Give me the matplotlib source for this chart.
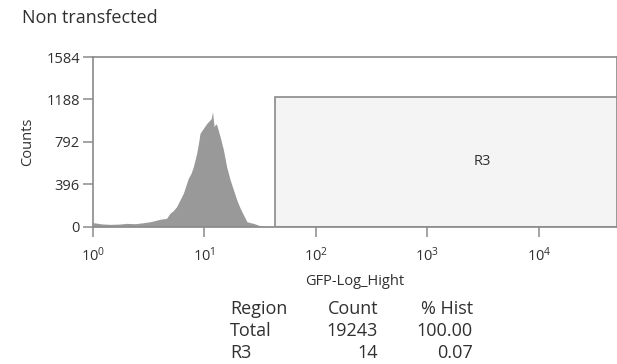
import numpy as np
import matplotlib.pyplot as plt

plt.rcParams['font.family'] = ['Open Sans', 'DejaVu Sans']
plt.rcParams['mathtext.fontset'] = 'custom'
plt.rcParams['mathtext.rm'] = 'Open Sans'

# GFP height channel (linear units) and event counts per channel
channel = [1.00, 1.20, 1.41, 1.70, 2.00, 2.40, 2.82, 3.20, 3.47, 3.98, 4.57, 4.90,
           5.25, 5.62, 6.03, 6.46, 7.16, 7.59, 7.94, 8.51, 8.90, 9.12, 9.77, 10.5,
           11.2, 11.5, 11.8, 12.2, 12.6, 12.9, 13.8, 14.8, 15.8, 17.0, 18.2, 19.5,
           20.9, 22.4, 24.0, 25.7, 27.5, 31.6, 36.3, 41.7]
counts = [38, 26, 22, 24, 31, 28, 37, 45, 53, 69, 78, 125,
          150, 187, 250, 312, 452, 500, 560, 685, 800, 872, 918, 965,
          996, 1010, 1073, 933, 960, 949, 840, 716, 560, 436, 343, 249,
          172, 109, 47, 38, 31, 9, 4, 3]

# R3 gate
gate_lo, gate_hi, gate_h = 43.0, 2.2e5, 1213

regions = ['Region', 'Total', 'R3']
region_counts = ['Count', '19243', '14']
pct_hist = ['% Hist', '100.00', '0.07']

W, H = 617, 364
fig = plt.figure(figsize=(W / 100, H / 100), dpi=100)
ax = fig.add_axes([93 / W, 1 - 226.7 / H, (W - 93) / W, (226.7 - 57) / H])

spine_col = '#8a8a8a'
text_col = '#303030'

ax.fill_between(channel, counts, 0, color='#999999', linewidth=0, zorder=2)
ax.add_patch(plt.Rectangle((gate_lo, 0), gate_hi - gate_lo, gate_h,
                           facecolor='#f4f4f4', edgecolor=spine_col,
                           linewidth=1.2, zorder=1))
ax.text(np.sqrt(gate_lo * gate_hi), gate_h / 2, 'R3', ha='center', va='center',
        fontsize=10.5, color=text_col)

ax.set_xscale('log')
ax.set_xlim(1, 10 ** 4.70)
ax.set_ylim(0, 1584)
ax.set_xticks([1, 10, 100, 1000, 10000])
ax.set_xticklabels(['$\\mathregular{10^{%d}}$' % i for i in range(5)])
ax.xaxis.set_minor_locator(plt.NullLocator())
ax.set_yticks([0, 396, 792, 1188, 1584])

for s in ax.spines.values():
    s.set_color(spine_col)
    s.set_linewidth(1.2)
ax.tick_params(colors=spine_col, labelcolor=text_col, labelsize=10.5,
               length=7.5, width=1.1)
ax.tick_params(axis='y', pad=2)
ax.tick_params(axis='x', pad=7)

ax.set_ylabel('Counts', fontsize=10.5, color=text_col)
ax.yaxis.set_label_coords(-0.124, 0.5)
ax.yaxis.label.set_va('center')
ax.set_xlabel('GFP-Log_Hight', fontsize=10.5, color=text_col)
ax.xaxis.set_label_coords(0.5, -0.32)
ax.xaxis.label.set_va('center')

fig.text(22 / W, 1 - 18 / H, 'Non transfected', fontsize=13, color=text_col,
         ha='left', va='center')

# statistics table under the plot
row_y = [309, 331, 353]
for i, y in enumerate(row_y):
    fy = 1 - y / H
    fig.text(230 / W, fy, regions[i], fontsize=13, color=text_col, ha='left', va='center')
    fig.text(378 / W, fy, region_counts[i], fontsize=13, color=text_col, ha='right', va='center')
    fig.text(473 / W, fy, pct_hist[i], fontsize=13, color=text_col, ha='right', va='center')

fig.savefig('out.png', dpi=100)
